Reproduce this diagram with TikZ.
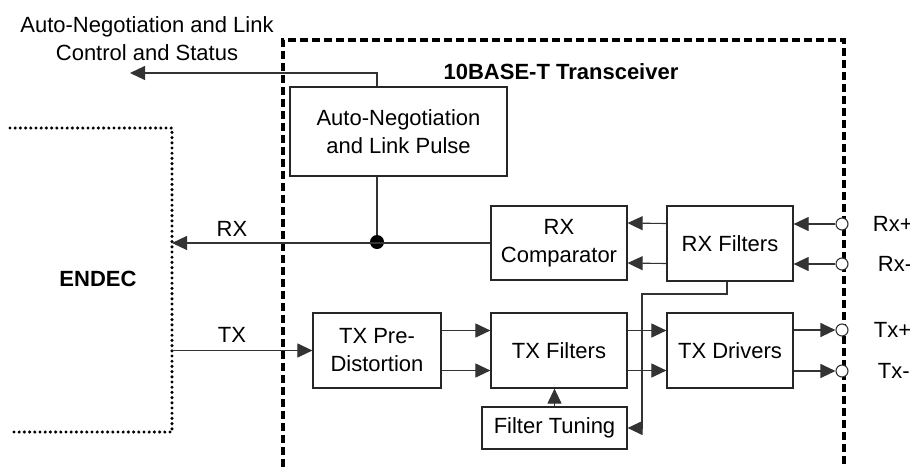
\documentclass[tikz,border=0pt]{standalone}
\usepackage{fontspec}
\setmainfont{Liberation Sans}
\usetikzlibrary{arrows.meta,positioning}

\begin{document}
\begin{tikzpicture}[x=0.5pt, y=-0.5pt, every node/.style={font=\fontsize{11}{14}\selectfont, align=center}]
  \tikzset{
    block/.style={draw=black!85, line width=0.6pt, inner sep=0pt},
    sig/.style={draw=black!80, line width=0.55pt},
    arr/.style={sig, -{Triangle[length=7.5pt,width=7pt]}},
    pin/.style={circle, draw=black!80, fill=white, line width=0.55pt, minimum size=6pt, inner sep=0pt},
    dot/.style={circle, fill=black, minimum size=7pt, inner sep=0pt},
    lbl/.style={inner sep=0pt},
    head/.style={lbl, font=\fontsize{11}{14}\selectfont\bfseries},
    dashbox/.style={line width=1.9pt, dash pattern=on 4pt off 2pt},
    dotbox/.style={line width=1.7pt, line cap=round, dash pattern=on 0pt off 2.6pt}
  }
  \useasboundingbox (0,0) rectangle (910,467);

  % frames
  \draw[dashbox] (283,467) |- (844,40) -- (844,467);
  \draw[dotbox] (10,128) -- (172,128) coordinate (endec) -- (172,432) -- (10,432);
  \node[head] (endecname) at (98,279) {ENDEC};
  \node[head] (xcvrname) at (561,72) {10BASE-T Transceiver};
  \node[lbl] (ctl) at (147,39) {Auto-Negotiation and Link\\Control and Status};

  % blocks
  \node[block, minimum width=108.5pt, minimum height=44.5pt] (autoneg) at (398.5,131.5) {Auto-Negotiation\\and Link Pulse};
  \node[block, minimum width=68pt, minimum height=37pt] (rxcomp) at (559,243) {RX\\Comparator};
  \node[block, minimum width=63pt, minimum height=37.5pt] (rxfilt) at (730,243.5) {RX Filters};
  \node[block, minimum width=64pt, minimum height=37.5pt] (txpre) at (377,350.5) {TX Pre-\\Distortion};
  \node[block, minimum width=68pt, minimum height=37.5pt] (txfilt) at (559,350.5) {TX Filters};
  \node[block, minimum width=63pt, minimum height=37.5pt] (txdrv) at (730,350.5) {TX Drivers};
  \node[block, minimum width=72.5pt, minimum height=21pt] (tune) at (554.5,428) {Filter Tuning};

  % pins
  \node[pin] (rxp) at (842,224) {};
  \node[pin] (rxn) at (842,264) {};
  \node[pin] (txp) at (842,330) {};
  \node[pin] (txn) at (842,371) {};
  \node[lbl, right=12pt of rxp] {Rx+};
  \node[lbl, right=14.5pt of rxn] {Rx-};
  \node[lbl, right=12.5pt of txp] {Tx+};
  \node[lbl, right=14.5pt of txn] {Tx-};

  % connectors
  \node[dot] (jn) at (377,242) {};
  \coordinate (ctlend) at (130,73);
  \draw[arr] (autoneg.north -| jn) |- (ctlend);
  \draw[sig] (autoneg.south -| jn) -- (jn);
  \draw[arr] (rxcomp.west) -- (rxcomp.west -| endec);
  \node[lbl] (rxname) at (232,229) {RX};
  \draw[arr] (txpre.west -| endec) -- (txpre.west);
  \node[lbl] (txname) at (232,335) {TX};
  \foreach \dy in {10pt,-10pt} {
    \draw[arr] ([yshift=\dy]txpre.east) -- ([yshift=\dy]txfilt.west);
    \draw[arr] ([yshift=\dy]txfilt.east) -- ([yshift=\dy]txdrv.west);
    \draw[arr] ([yshift=\dy]rxfilt.west) -- ([yshift=\dy]rxcomp.east);
  }
  \draw[arr] (rxp) -- (rxfilt.east |- rxp);
  \draw[arr] (rxn) -- (rxfilt.east |- rxn);
  \draw[arr] (txdrv.east |- txp) -- (txp);
  \draw[arr] (txdrv.east |- txn) -- (txn);
  \draw[arr] (tune.north) -- (tune.north |- txfilt.south);
  \coordinate (tap) at (642,294);
  \draw[arr] ([xshift=-1.5pt]rxfilt.south) |- (tap) |- (tune.east);
\end{tikzpicture}
\end{document}
